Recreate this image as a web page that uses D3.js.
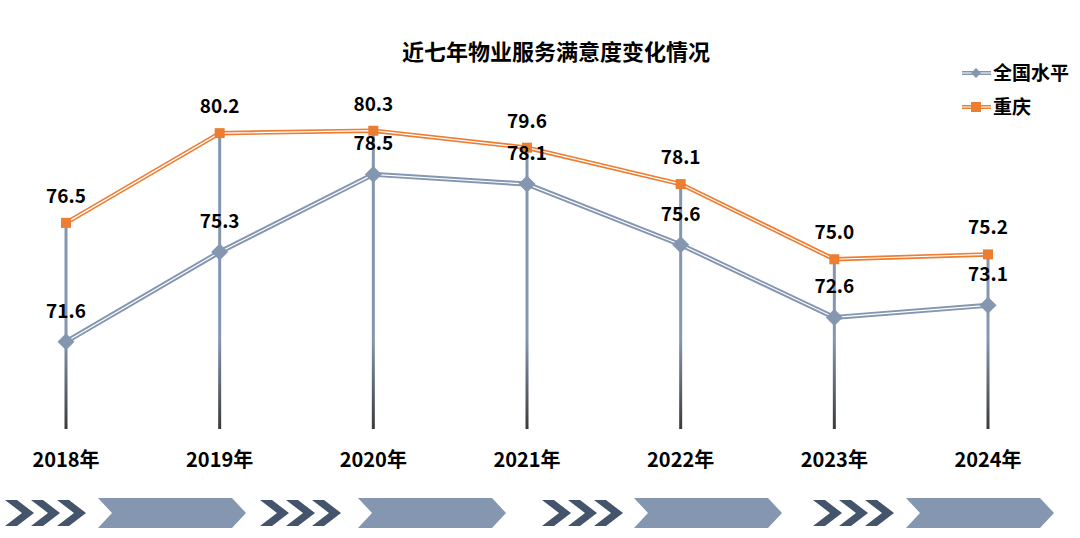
<!DOCTYPE html>
<html><head><meta charset="utf-8">
<script src="https://cdn.jsdelivr.net/npm/d3@7"></script>
<style>body{margin:0;background:#fff}svg{display:block}text{font-family:"Noto Sans CJK SC","Noto Sans",sans-serif;font-weight:bold;fill:#000}</style>
</head><body><svg id="c" width="1080" height="538"></svg>
<script>
const years = ["2018年","2019年","2020年","2021年","2022年","2023年","2024年"];
const national = [71.6,75.3,78.5,78.1,75.6,72.6,73.1];
const chongqing = [76.5,80.2,80.3,79.6,78.1,75.0,75.2];
const seriesNames = ["全国水平","重庆"];
const title = "近七年物业服务满意度变化情况";

const svg = d3.select("#c");
const blue = "#8496B0", orange = "#ED7D31", dark = "#44546A";
const x = d3.scalePoint().domain(years).range([66, 988]);
const y = d3.scaleLinear().domain([68, 84]).range([429, 41]);

const defs = svg.append("defs");
const g = defs.append("linearGradient").attr("id","drop").attr("gradientUnits","userSpaceOnUse")
  .attr("x1",0).attr("x2",0).attr("y1",340).attr("y2",y(68));
g.append("stop").attr("offset",0).attr("stop-color",blue);
g.append("stop").attr("offset",1).attr("stop-color","#3a3a3a");

svg.append("text").attr("x",556).attr("y",60).attr("text-anchor","middle").style("font-size","22px").text(title);

// drop lines
svg.append("g").selectAll("line").data(years).join("line")
  .attr("x1",d=>x(d)).attr("x2",d=>x(d))
  .attr("y1",(d,i)=>y(chongqing[i])).attr("y2",y(68))
  .attr("stroke","url(#drop)").attr("stroke-width",3);

const line = d3.line().x((d,i)=>x(years[i])).y(d=>y(d));
function drawSeries(vals, col, w){
  svg.append("path").attr("d",line(vals)).attr("fill","none").attr("stroke",col).attr("stroke-width",w);
  svg.append("path").attr("d",line(vals)).attr("fill","none").attr("stroke","#fff").attr("stroke-width",1.2);
}
drawSeries(national, blue, 5);
drawSeries(chongqing, orange, 4.5);

// markers
svg.append("g").selectAll("path").data(national).join("path")
  .attr("d",d3.symbol().type(d3.symbolSquare).size(144))
  .attr("transform",(d,i)=>`translate(${x(years[i])},${y(d)}) rotate(45)`)
  .attr("fill",blue);
svg.append("g").selectAll("rect").data(chongqing).join("rect")
  .attr("x",(d,i)=>x(years[i])-5).attr("y",d=>y(d)-5).attr("width",10).attr("height",10)
  .attr("fill",orange);

// labels
svg.append("g").selectAll("text").data(national).join("text")
  .attr("x",(d,i)=>x(years[i])).attr("y",d=>y(d)-24).attr("text-anchor","middle")
  .style("font-size","19px").text(d=>d.toFixed(1));
svg.append("g").selectAll("text").data(chongqing).join("text")
  .attr("x",(d,i)=>x(years[i])).attr("y",d=>y(d)-20).attr("text-anchor","middle")
  .style("font-size","19px").text(d=>d.toFixed(1));

// x axis labels
svg.append("g").selectAll("text").data(years).join("text")
  .attr("x",d=>x(d)).attr("y",467).attr("text-anchor","middle")
  .style("font-size","20px").text(d=>d);

// legend
const lg = svg.append("g");
[[blue,73],[orange,107]].forEach(([c,yy],k)=>{
  lg.append("line").attr("x1",962).attr("x2",991).attr("y1",yy).attr("y2",yy).attr("stroke",c).attr("stroke-width",4);
  lg.append("line").attr("x1",962).attr("x2",991).attr("y1",yy).attr("y2",yy).attr("stroke","#fff").attr("stroke-width",1);
  if(k===0) lg.append("path").attr("d",d3.symbol().type(d3.symbolSquare).size(50)).attr("transform",`translate(976,${yy}) rotate(45)`).attr("fill",c);
  else lg.append("rect").attr("x",971).attr("y",yy-5).attr("width",10).attr("height",10).attr("fill",c);
  lg.append("text").attr("x",993).attr("y",yy+7).style("font-size","19px").text(seriesNames[k]);
});

// bottom decoration
const deco = svg.append("g");
const groups = [5, 260, 542, 813];
const banners = [[98,246],[358,506],[634,782],[906,1054]];
groups.forEach((gx,k)=>{
  for(let j=0;j<3;j++){
    const x0 = gx + j*26, t=500, b=526, m=513;
    deco.append("path").attr("d",`M${x0},${t}L${x0+12},${t}L${x0+29},${m}L${x0+12},${b}L${x0},${b}L${x0+17},${m}Z`).attr("fill",dark);
  }
  const [l,r] = banners[k]; const t=498,b=528,m=513;
  deco.append("path").attr("d",`M${l},${t}L${r-14},${t}L${r},${m}L${r-14},${b}L${l},${b}L${l+14},${m}Z`).attr("fill",blue);
});
</script></body></html>
